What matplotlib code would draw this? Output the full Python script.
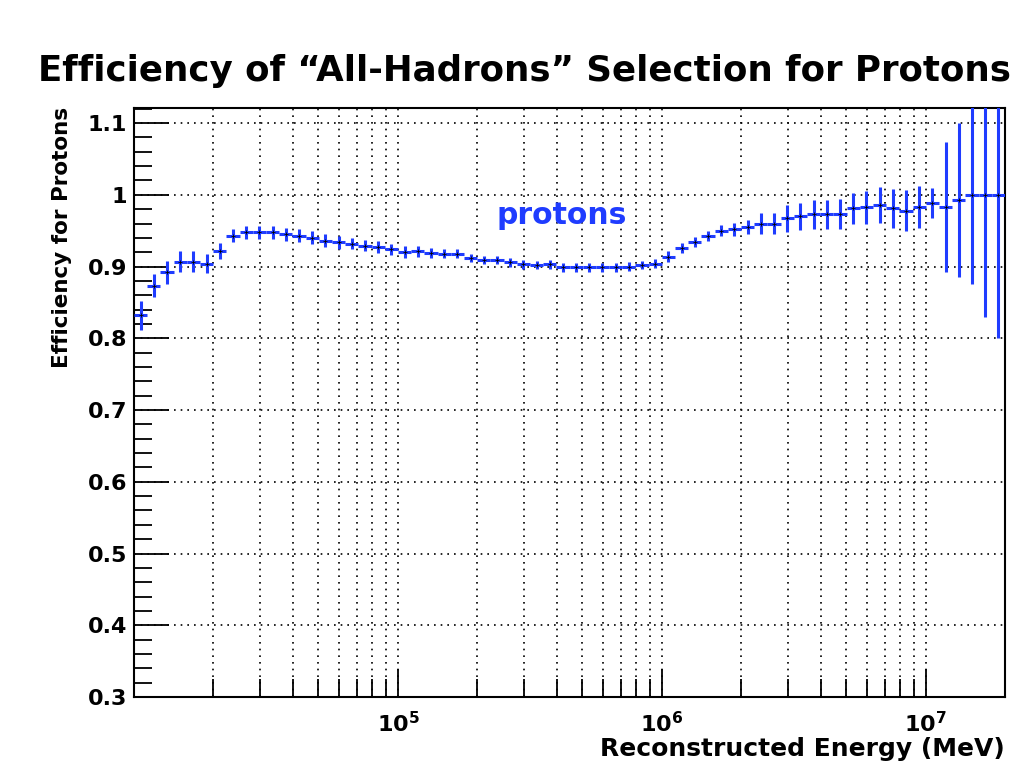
import numpy as np
import matplotlib
matplotlib.use("Agg")
import matplotlib.pyplot as plt
from matplotlib.ticker import FixedLocator, LogLocator, NullFormatter, FuncFormatter

plt.rcParams['font.family'] = ['DejaVu Sans']
plt.rcParams['mathtext.fontset'] = 'dejavusans'

# bin structure: 66 log bins from 1e4 to ~2e7 MeV
log_emin = 4.0
log_emax = 7.3
n_bins = 66

efficiency = [0.832, 0.873, 0.892, 0.907, 0.907, 0.904, 0.922, 0.943, 0.948, 0.948,
              0.948, 0.945, 0.943, 0.940, 0.936, 0.934, 0.932, 0.929, 0.927, 0.924,
              0.920, 0.921, 0.919, 0.918, 0.918, 0.912, 0.909, 0.909, 0.906, 0.903,
              0.902, 0.903, 0.899, 0.899, 0.899, 0.899, 0.899, 0.900, 0.902, 0.904,
              0.914, 0.926, 0.934, 0.942, 0.950, 0.952, 0.955, 0.960, 0.960, 0.967,
              0.970, 0.973, 0.973, 0.973, 0.981, 0.983, 0.986, 0.981, 0.978, 0.983,
              0.988, 0.983, 0.993, 1.000, 1.000, 1.000]
efficiency_err = [0.020, 0.016, 0.016, 0.014, 0.014, 0.013, 0.011, 0.009, 0.009, 0.009,
                  0.009, 0.009, 0.009, 0.009, 0.009, 0.009, 0.008, 0.008, 0.008, 0.008,
                  0.008, 0.007, 0.007, 0.006, 0.006, 0.006, 0.006, 0.006, 0.006, 0.006,
                  0.006, 0.006, 0.006, 0.006, 0.006, 0.006, 0.006, 0.006, 0.006, 0.006,
                  0.007, 0.007, 0.007, 0.007, 0.008, 0.009, 0.010, 0.014, 0.014, 0.019,
                  0.019, 0.020, 0.020, 0.021, 0.021, 0.023, 0.025, 0.027, 0.029, 0.029,
                  0.021, 0.091, 0.107, 0.125, 0.170, 0.200]

y_ticks = [0.3, 0.4, 0.5, 0.6, 0.7, 0.8, 0.9, 1.0, 1.1]

edges = np.logspace(log_emin, log_emax, n_bins + 1)
centers = np.sqrt(edges[:-1] * edges[1:])
xerr = [centers - edges[:-1], edges[1:] - centers]

blue = '#1f3cff'

fig = plt.figure(figsize=(10.21, 7.62), dpi=100)
ax = fig.add_axes([134 / 1021, 1 - 697 / 762, 871 / 1021, 589 / 762])

ax.errorbar(centers, efficiency, yerr=efficiency_err, xerr=xerr, fmt='none',
            ecolor=blue, elinewidth=2.2, capsize=0, zorder=3)
ax.plot(centers, efficiency, linestyle='none', marker='+', color='black',
        markersize=3, markeredgewidth=0.6, zorder=4)

ax.set_xscale('log')
ax.set_xlim(10 ** log_emin, 10 ** log_emax)
ax.set_ylim(0.3, 1.121)


def fmt_decade(v, p):
    d = int(round(np.log10(v)))
    if d <= 4:
        return ''
    return r'$\mathbf{10^{%d}}$' % d


ax.xaxis.set_major_locator(LogLocator(base=10, numticks=10))
ax.xaxis.set_minor_locator(LogLocator(base=10, subs=np.arange(2, 10), numticks=20))
ax.xaxis.set_minor_formatter(NullFormatter())
ax.xaxis.set_major_formatter(FuncFormatter(fmt_decade))
ax.yaxis.set_major_locator(FixedLocator(y_ticks))
ax.yaxis.set_minor_locator(FixedLocator(np.arange(0.3, 1.121, 0.02)))
ax.yaxis.set_major_formatter(FuncFormatter(lambda v, p: '%g' % round(v, 2)))

ax.tick_params(axis='both', which='both', direction='in', top=False, right=False,
               color='black', width=1.3)
ax.tick_params(axis='y', which='major', length=25, labelsize=16, pad=5)
ax.tick_params(axis='y', which='minor', length=13)
ax.tick_params(axis='x', which='major', length=20, labelsize=16, pad=10)
ax.tick_params(axis='x', which='minor', length=13)
for lab in ax.get_yticklabels():
    lab.set_fontweight('bold')

ax.grid(True, which='major', axis='y', color='black', linestyle=(0, (1, 3)), linewidth=1.2)
ax.grid(True, which='both', axis='x', color='black', linestyle=(0, (1, 3)), linewidth=1.2)
for s in ax.spines.values():
    s.set_linewidth(1.5)

ax.text((562 - 134) / 871, (697 - 215) / 589, 'protons', transform=ax.transAxes,
        color=blue, fontsize=21.5, fontweight='bold', ha='center', va='center')

fig.text(62 / 1021, 1 - 107 / 762, 'Efficiency for Protons', rotation=90,
         fontsize=15.5, fontweight='bold', ha='center', va='top')
fig.text(1005 / 1021, 1 - 749 / 762, 'Reconstructed Energy (MeV)',
         fontsize=18, fontweight='bold', ha='right', va='center')
fig.text(38 / 1021, 1 - 81 / 762, 'Efficiency of \u201cAll-Hadrons\u201d Selection for Protons',
         fontsize=25.7, fontweight='bold', ha='left', va='baseline')

fig.savefig('out.png', dpi=100)
